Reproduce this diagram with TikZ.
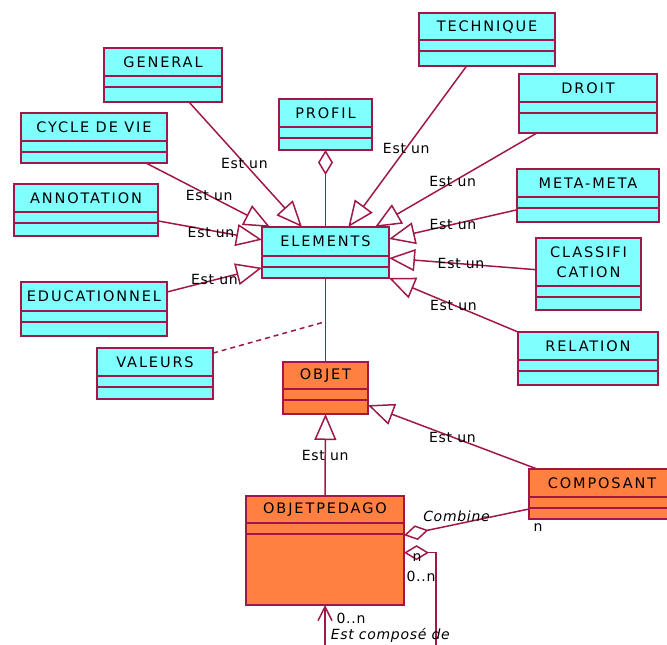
\documentclass[tikz,border=0pt]{standalone}
\usepackage{fontspec}
\setmainfont{DejaVu Sans}
\newfontfamily\clsfont[LetterSpace=13]{DejaVu Sans}
\newfontfamily\lblfont[LetterSpace=5]{DejaVu Sans}
\usepackage{tikz}
\usetikzlibrary{calc}
\usetikzlibrary{arrows.meta}
\usetikzlibrary{positioning}
\definecolor{umlline}{RGB}{160,24,72}
\definecolor{umlcyan}{RGB}{128,255,255}
\definecolor{umlorange}{RGB}{255,128,64}
\tikzset{cls/.style={draw=umlline, fill=umlcyan, anchor=north west, inner sep=0pt, outer sep=0pt}}
\tikzset{ttl/.style={font=\clsfont\fontsize{14.5}{20}\selectfont, inner sep=0pt, align=center}}
\tikzset{lbl/.style={font=\lblfont\fontsize{14}{16}\selectfont, inner sep=0pt}}

\begin{document}
\begin{tikzpicture}[x=1pt, y=-1pt, line width=1.5pt]
\useasboundingbox (0,0) rectangle (667,645);
\tikzstyle{isa} = [draw=umlline, -{Triangle[open, length=26pt, width=22pt]}]
\tikzstyle{agg} = [draw=umlline, {Diamond[open, length=25pt, width=15pt]}-]
\tikzstyle{dots} = [draw=umlline, dash pattern=on 5pt off 4pt]

% cyan classes
\node[cls, minimum width=118pt, minimum height=54pt] (gen) at (104, 48){};
\node[cls, minimum width=146pt, minimum height=50pt] (cyc) at (21, 113){};
\node[cls, minimum width=144pt, minimum height=52pt] (ann) at (14, 184){};
\node[cls, minimum width=146pt, minimum height=54pt] (edu) at (21, 282){};
\node[cls, minimum width=116pt, minimum height=51pt] (val) at (97, 348){};
\node[cls, minimum width=93pt, minimum height=51pt] (pro) at (279, 99){};
\node[cls, minimum width=127pt, minimum height=51pt] (ele) at (262, 227){};
\node[cls, minimum width=136pt, minimum height=53pt] (tec) at (419, 13){};
\node[cls, minimum width=138pt, minimum height=59pt] (dro) at (519, 74){};
\node[cls, minimum width=142pt, minimum height=53pt] (met) at (517, 169){};
\node[cls, minimum width=105pt, minimum height=72pt] (cla) at (536, 238){};
\node[cls, minimum width=140pt, minimum height=53pt] (rel) at (518, 332){};

% orange classes
\node[cls, fill=umlorange, minimum width=85pt, minimum height=52pt] (obj) at (283, 362){};
\node[cls, fill=umlorange, minimum width=158pt, minimum height=109pt] (opd) at (246, 496){};
\node[cls, fill=umlorange, minimum width=146pt, minimum height=50pt] (com) at (529, 469){};

% titles and compartments
\foreach \c/\t in {gen/GENERAL, cyc/CYCLE DE VIE, ann/ANNOTATION, edu/EDUCATIONNEL,
  val/VALEURS, pro/PROFIL, ele/ELEMENTS, tec/TECHNIQUE, dro/DROIT, met/META-META,
  rel/RELATION, obj/OBJET, opd/OBJETPEDAGO, com/COMPOSANT}
  \node[ttl] (\c-t) at ($(\c.north) +(0, 14)$) {\t};
\node[ttl] (cla-t) at ($(cla.north) +(0, 24)$) {CLASSIFI\\CATION};
\foreach \c/\h in {gen/28, cyc/28, ann/28, edu/29, val/28, pro/28, ele/29, tec/27,
  dro/28, met/28, cla/48, rel/28, obj/27, opd/27, com/28}
{
  \draw[umlline] ($(\c.north west) +(0, \h)$) -- ($(\c.north east) +(0, \h)$);
  \draw[umlline] ($(\c.north west) +(0, \h+11)$) -- ($(\c.north east) +(0, \h+11)$);
}

% Est un -> ELEMENTS
\draw[isa] ($(gen.south west) !.72! (gen.south east)$) -- node[lbl, pos=.49] (l-gen) {Est un} ($(ele.north west) !.315! (ele.north east)$);
\draw[isa] ($(cyc.south west) !.856! (cyc.south east)$) -- node[lbl, pos=.51] (l-cyc) {Est un} ($(ele.north west) !.063! (ele.north east)$);
\draw[isa] ($(ann.north east) !.71! (ann.south east)$) -- node[lbl, pos=.51, yshift=-2pt] (l-ann) {Est un} ($(ele.north west) !.25! (ele.south west)$);
\draw[isa] ($(edu.north east) !.185! (edu.south east)$) -- node[lbl, pos=.5] (l-edu) {Est un} ($(ele.north west) !.8! (ele.south west)$);
\draw[isa] ($(tec.south west) !.35! (tec.south east)$) -- node[lbl, pos=.51] (l-tec) {Est un} ($(ele.north west) !.68! (ele.north east)$);
\draw[isa] ($(dro.south west) !.13! (dro.south east)$) -- node[lbl, pos=.52] (l-dro) {Est un} ($(ele.north west) !.89! (ele.north east)$);
\draw[isa] ($(met.north west) !.77! (met.south west)$) -- node[lbl, pos=.5] (l-met) {Est un} ($(ele.north east) !.235! (ele.south east)$);
\draw[isa] ($(cla.north west) !.44! (cla.south west)$) -- node[lbl, pos=.51] (l-cla) {Est un} ($(ele.north east) !.61! (ele.south east)$);
\draw[isa] (rel.north west) -- node[lbl, pos=.5] (l-rel) {Est un} (ele.south east);

% PROFIL, VALEURS
\draw[agg] (pro.south) -- (ele.north);
\draw[umlline] (ele.south) -- coordinate[pos=.52] (asc) (obj.north);
\draw[dots] ($(val.north east) !.1! (val.south east)$) -- (asc);

% OBJET
\draw[isa] (opd.north) -- node[lbl, pos=.5] (l-opd) {Est un} (obj.south);
\draw[isa] ($(com.north west) !.055! (com.north east)$) -- node[lbl, pos=.5] (l-com) {Est un} ($(obj.north east) !.83! (obj.south east)$);

% Combine
\draw[agg] ($(opd.north east) !.36! (opd.south east)$) -- node[lbl, pos=.42, above=2pt, font=\lblfont\itshape\fontsize{14}{16}\selectfont] (l-cmb) {Combine} ($(com.north west) !.8! (com.south west)$);
\node[lbl] (m-com) at ($(com.south west) +(9, 9)$) {n};

% Est compose de
\coordinate (loop) at (436, 665);
\draw[umlline, {Diamond[open, length=25pt, width=15pt]}-{Straight Barb[length=14pt, width=14pt]}]
  ($(opd.north east) !.52! (opd.south east)$) -| (loop) -| (opd.south);
\node[lbl] (m-n) at ($(opd.south east) +(13, -47)$) {n};
\node[lbl] (m-on) at ($(opd.south east) +(17, -29)$) {0..n};
\node[lbl] (m-os) at ($(opd.south) +(26, 13)$) {0..n};
\node[lbl, anchor=north west, font=\lblfont\itshape\fontsize{14}{16}\selectfont] (l-self) at (330, 628) {Est composé de};
\end{tikzpicture}
\end{document}
